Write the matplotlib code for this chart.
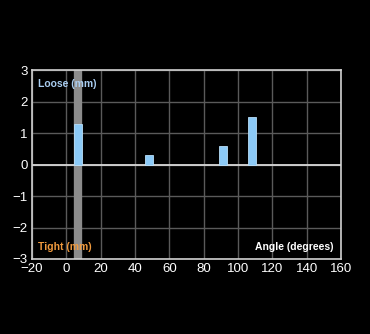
import matplotlib
matplotlib.use("Agg")
from matplotlib import pyplot as plt

plt.rcParams["font.family"] = ["Liberation Sans", "DejaVu Sans"]

# Data
angles = [7, 48, 91, 108]
loose_mm = [1.3, 0.3, 0.6, 1.5]
marker_angle = 7
x_ticks = [-20, 0, 20, 40, 60, 80, 100, 120, 140, 160]
y_ticks = [-3, -2, -1, 0, 1, 2, 3]

fig = plt.figure(figsize=(3.7, 3.34), dpi=100, facecolor="black")
ax = fig.add_axes([0.0865, 0.2246, 0.8355, 0.5654], facecolor="black")

ax.set_xlim(-20, 160)
ax.set_ylim(-3, 3)
ax.set_xticks(x_ticks)
ax.set_yticks(y_ticks)
ax.grid(True, color="#5a5a5a", linewidth=1.0)
ax.set_axisbelow(True)

ax.axvline(marker_angle, color="#8c8c8c", linewidth=6, zorder=2)
ax.axhline(0, color="#d8d8d8", linewidth=1.3, zorder=2)
ax.bar(angles, loose_mm, width=4.8, color="#8ccaf7", edgecolor="#b8def9",
       linewidth=0.6, zorder=3)

for s in ax.spines.values():
    s.set_color("#d0d0d0")
    s.set_linewidth(1.2)
ax.tick_params(colors="white", labelsize=9.5, length=0, pad=3)
for lab in ax.get_xticklabels() + ax.get_yticklabels():
    lab.set_color("white")

ax.text(0.02, 0.955, "Loose (mm)", transform=ax.transAxes, color="#a9cdf0",
        fontsize=7.5, fontweight="bold", va="top", ha="left", zorder=4)
ax.text(0.02, 0.035, "Tight (mm)", transform=ax.transAxes, color="#f09a3e",
        fontsize=7.5, fontweight="bold", va="bottom", ha="left", zorder=4)
ax.text(0.975, 0.035, "Angle (degrees)", transform=ax.transAxes, color="white",
        fontsize=7.5, fontweight="bold", va="bottom", ha="right", zorder=4)

fig.savefig("out.png", dpi=100, facecolor="black")
